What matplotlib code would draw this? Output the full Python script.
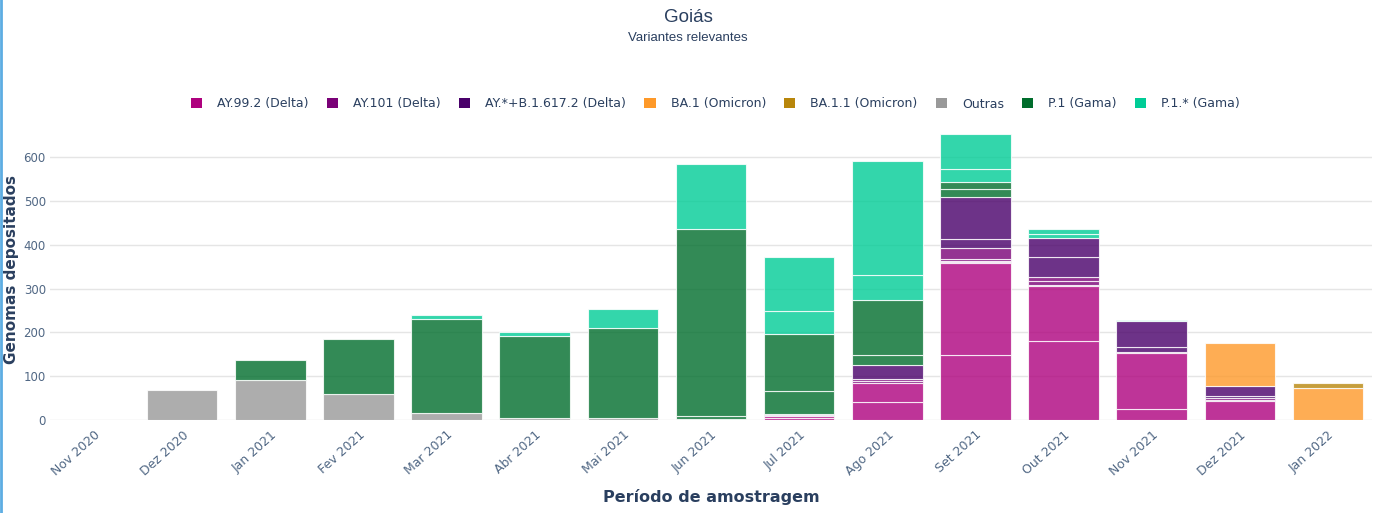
import matplotlib
matplotlib.use('Agg')
import numpy as np
import matplotlib.pyplot as plt
import matplotlib.patches as mpatches
from matplotlib.lines import Line2D

# Months on the x axis
months = ['Nov 2020', 'Dez 2020', 'Jan 2021', 'Fev 2021', 'Mar 2021', 'Abr 2021', 'Mai 2021', 'Jun 2021',
          'Jul 2021', 'Ago 2021', 'Set 2021', 'Out 2021', 'Nov 2021', 'Dez 2021', 'Jan 2022']

# Sub-segments per month for each variant (stacked bottom to top)
ay_99_2 = [[], [], [], [], [], [], [], [], [5, 5], [42, 43], [148, 210], [181, 125], [25, 129], [43], []]
ay_101 = [[], [], [], [], [], [], [], [], [2], [4, 4], [3, 3, 3, 26], [2, 9, 10], [2], [3, 4], []]
ay_other = [[], [], [], [], [], [], [], [], [2], [32], [20, 97], [46, 42], [11, 59], [5, 23], []]
ba_1 = [[], [], [], [], [], [], [], [], [], [], [], [], [], [98], [72]]
ba_1_1 = [[], [], [], [], [], [], [], [], [], [], [], [], [], [], [12]]
outras = [[1], [68], [91], [59], [16], [4], [5], [3], [], [], [], [], [], [], []]
p_1 = [[], [], [46], [126], [214], [188], [206], [5, 428], [52, 130], [23, 126], [17, 17], [], [], [], []]
p_1_other = [[], [], [], [], [10], [9], [42], [148], [53, 124], [57, 259], [29, 80], [10, 10], [3], [], []]

series_names = ['AY.99.2 (Delta)', 'AY.101 (Delta)', 'AY.*+B.1.617.2 (Delta)', 'BA.1 (Omicron)',
                'BA.1.1 (Omicron)', 'Outras', 'P.1 (Gama)', 'P.1.* (Gama)']
series_data = [ay_99_2, ay_101, ay_other, ba_1, ba_1_1, outras, p_1, p_1_other]
series_colors = ['#AE017E', '#7A0177', '#49006A', '#FE9929', '#B8860B', '#999999', '#006D2C', '#00CC96']

TEXT = '#2a3f5f'
TICK = '#506784'

fig = plt.figure(figsize=(13.76, 5.13), dpi=100)
ax = fig.add_axes([50 / 1376, 1 - 420 / 513, 1322 / 1376, 301 / 513])

# Stacked bars, one rectangle per sub-segment
x = np.arange(len(months))
bottom = np.zeros(len(months))
for data, color in zip(series_data, series_colors):
    for i, segs in enumerate(data):
        for v in segs:
            ax.bar(x[i], v, bottom=bottom[i], width=0.8, color=color, alpha=0.8,
                   edgecolor=(1, 1, 1, 0.75), linewidth=0.8, zorder=3)
            bottom[i] += v

# Axes styling
ax.set_xlim(-0.5, len(months) - 0.5)
ax.set_ylim(0, 687)
ax.set_yticks(range(0, 700, 100))
ax.set_xticks(x)
ax.set_xticklabels(months, rotation=42, ha='right', rotation_mode='anchor', color=TICK, fontsize=9)
ax.tick_params(axis='y', colors=TICK, labelsize=8.5, length=0, pad=3)
ax.tick_params(axis='x', length=0, pad=6)
ax.grid(axis='y', color='#e5e5e5', linewidth=1, zorder=0)
for s in ax.spines.values():
    s.set_visible(False)

ax.set_ylabel('Genomas depositados', fontsize=11, fontweight='bold', color=TEXT)
ax.yaxis.set_label_coords(-31 / 1322, 0.5)
ax.set_xlabel('Período de amostragem', fontsize=11.5, fontweight='bold', color=TEXT, labelpad=8)

# Titles
fig.text(0.5, 1 - 17 / 513, 'Goiás', ha='center', va='center', fontsize=13.5, color=TEXT,
         family='Liberation Sans')
fig.text(0.5, 1 - 38 / 513, 'Variantes relevantes', ha='center', va='center', fontsize=9.5, color=TEXT,
         family='Liberation Sans')

# Legend
handles = [mpatches.Patch(facecolor=c, edgecolor='none', label=n) for n, c in zip(series_names, series_colors)]
fig.legend(handles=handles, loc='center', bbox_to_anchor=(0.52, 1 - 104 / 513), ncol=8, frameon=False,
           fontsize=9, labelcolor=TEXT, handlelength=0.9, handleheight=0.9, handletextpad=1.2,
           columnspacing=1.45)

# Blue left border
fig.add_artist(Line2D([0.001, 0.001], [0, 1], color='#5DADE2', linewidth=2, transform=fig.transFigure))

fig.savefig('out.png', dpi=100)
